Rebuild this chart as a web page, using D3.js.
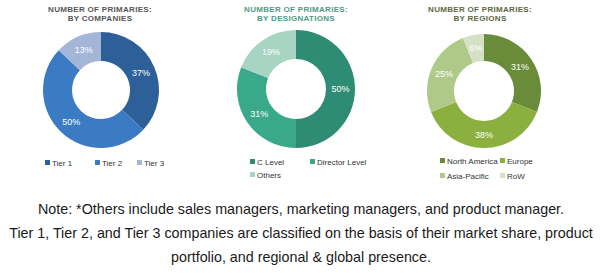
<!DOCTYPE html>
<html>
<head>
<meta charset="utf-8">
<script src="https://cdn.jsdelivr.net/npm/d3@7"></script>
<style>
  body { margin: 0; background: #fff; }
  svg { display: block; font-family: 'Liberation Sans', Arial, sans-serif; }
</style>
</head>
<body>
<div id="chart"></div>
<script>
// values
const companyLabels = ['Tier 1', 'Tier 2', 'Tier 3'];
const companyValues = [37, 50, 13];
const designationLabels = ['C Level', 'Director Level', 'Others'];
const designationValues = [50, 31, 19];
const regionLabels = ['North America', 'Europe', 'Asia-Pacific', 'RoW'];
const regionValues = [31, 38, 25, 6];
const titles = [
    ['NUMBER OF PRIMARIES:', 'BY COMPANIES'],
    ['NUMBER OF PRIMARIES:', 'BY DESIGNATIONS'],
    ['NUMBER OF PRIMARIES:', 'BY REGIONS'],
];
const noteLines = [
    'Note: *Others include sales managers, marketing managers, and product manager.',
    'Tier 1, Tier 2, and Tier 3 companies are classified on the basis of their market share, product',
    'portfolio, and regional & global presence.',
];

const width = 600;
const height = 273;

const svg = d3.select('#chart').append('svg')
    .attr('width', width)
    .attr('height', height);

const panels = [
    {
        labels: companyLabels, values: companyValues, title: titles[0],
        colors: ['#2d5f98', '#3a7bc3', '#a4b6d8'], titleColor: '#555',
        cx: 101, cy: 90, r: 58, r0: 29, tx: 100,
        legend: [[45, 163], [95, 163], [137, 163]],
    },
    {
        labels: designationLabels, values: designationValues, title: titles[1],
        colors: ['#2f8c74', '#3aa98a', '#a7d4c3'], titleColor: '#4f9a86',
        cx: 296, cy: 89, r: 59, r0: 30, tx: 296,
        legend: [[250, 162], [310, 162], [250, 175]],
    },
    {
        labels: regionLabels, values: regionValues, title: titles[2],
        colors: ['#6a8c3a', '#8bb040', '#afc989', '#d5e0c6'], titleColor: '#5c6745',
        cx: 484, cy: 91, r: 57, r0: 30, tx: 480,
        legend: [[440, 161], [500, 161], [440, 176], [500, 176]],
    },
];

panels.forEach((p) => {
    const g = svg.append('g');

    g.selectAll('.title')
        .data(p.title)
        .enter()
        .append('text')
        .attr('x', p.tx)
        .attr('y', (d, i) => 12 + i * 9)
        .attr('text-anchor', 'middle')
        .style('font-size', '8px')
        .style('font-weight', 'bold')
        .style('letter-spacing', '0.3px')
        .style('fill', p.titleColor)
        .text(d => d);

    const pie = d3.pie().sort(null).value(d => d)(p.values);
    const arc = d3.arc().innerRadius(p.r0).outerRadius(p.r);
    const labelArc = d3.arc().innerRadius((p.r + p.r0) / 2).outerRadius((p.r + p.r0) / 2);
    const color = d3.scaleOrdinal().domain(p.labels).range(p.colors);

    const donut = g.append('g')
        .attr('transform', `translate(${p.cx},${p.cy})`);

    donut.selectAll('path')
        .data(pie)
        .enter()
        .append('path')
        .attr('d', arc)
        .style('fill', (d, i) => color(p.labels[i]));

    donut.selectAll('.pct')
        .data(pie)
        .enter()
        .append('text')
        .attr('transform', d => `translate(${labelArc.centroid(d)})`)
        .attr('text-anchor', 'middle')
        .attr('dy', '0.35em')
        .style('font-size', '9px')
        .style('fill', '#fff')
        .text(d => `${d.data}%`);

    const items = g.selectAll('.legend')
        .data(p.labels)
        .enter()
        .append('g')
        .attr('transform', (d, i) => `translate(${p.legend[i][0]},${p.legend[i][1]})`);

    items.append('rect')
        .attr('x', 0)
        .attr('y', -3)
        .attr('width', 5)
        .attr('height', 5)
        .style('fill', d => color(d));

    items.append('text')
        .attr('x', 7)
        .attr('y', 0)
        .attr('dy', '0.35em')
        .style('font-size', '8px')
        .style('fill', '#333')
        .text(d => d);
});

svg.selectAll('.note')
    .data(noteLines)
    .enter()
    .append('text')
    .attr('x', width / 2 + 1)
    .attr('y', (d, i) => 214 + i * 24)
    .attr('text-anchor', 'middle')
    .style('font-size', '14.3px')
    .style('fill', '#1a1a1a')
    .text(d => d);
</script>
</body>
</html>
